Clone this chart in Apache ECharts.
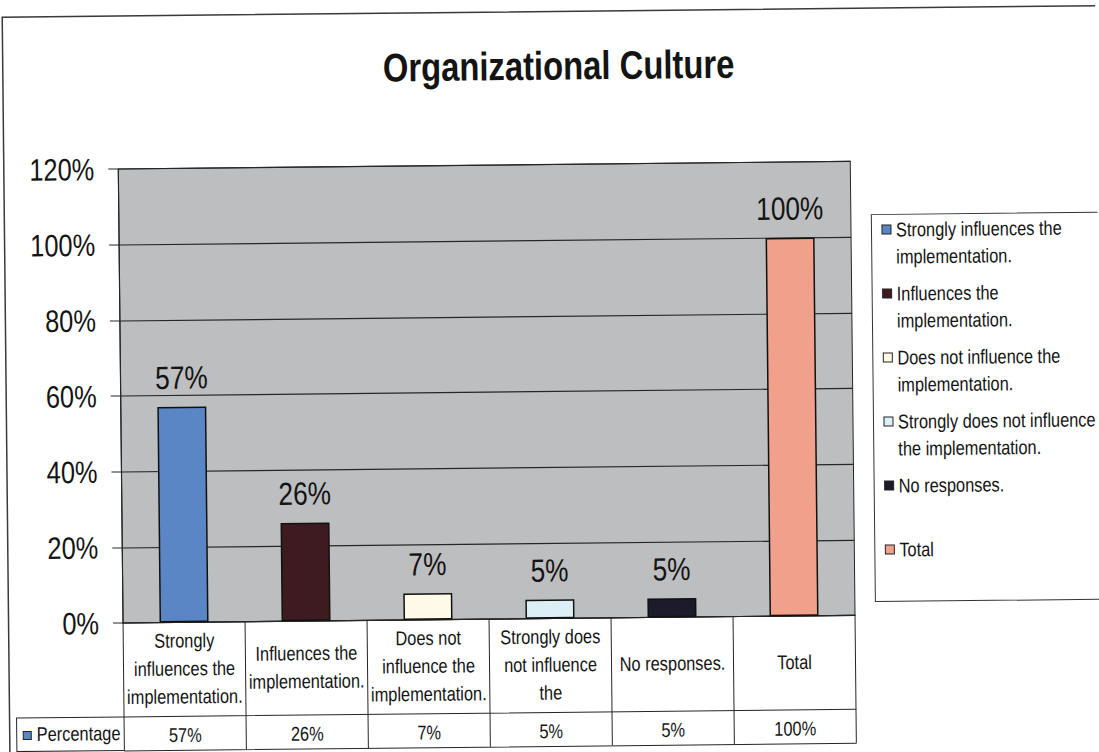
<!DOCTYPE html>
<html>
<head>
<meta charset="utf-8">
<title>Organizational Culture</title>
<script src="https://cdn.jsdelivr.net/npm/echarts@6/dist/echarts.min.js"></script>
<style>
  html, body { margin: 0; padding: 0; background: #ffffff; overflow: hidden; }
  #chart {
    width: 1099px;
    height: 752px;
    transform: rotate(-0.6deg);
    transform-origin: 50% 50%;
  }
</style>
</head>
<body>
<div id="chart"></div>
<script>
// Survey answers (legend / series names)
const categories = [
  'Strongly influences the implementation.',
  'Influences the implementation.',
  'Does not influence the implementation.',
  'Strongly does not influence the implementation.',
  'No responses.',
  'Total'
];

// Header cells of the data table under the plot
const tableLabels = [
  'Strongly\ninfluences the\nimplementation.',
  'Influences the\nimplementation.',
  'Does not\ninfluence the\nimplementation.',
  'Strongly does\nnot influence\nthe',
  'No responses.',
  'Total'
];

// Wrapped legend entries
const legendLabels = [
  'Strongly influences the\nimplementation.',
  'Influences the\nimplementation.',
  'Does not influence the\nimplementation.',
  'Strongly does not influence\nthe implementation.',
  'No responses.\n ',
  'Total\n '
];

// Percentage of respondents
const percentages = [57, 26, 7, 5, 5, 100];

// Value axis ticks (percent)
const yTicks = [0, 20, 40, 60, 80, 100, 120];

const barColors = ['#5a86c6', '#3e1b20', '#fffbe8', '#ddeff6', '#1d1b2b', '#f0a08b'];

const FONT = "'Liberation Sans', Arial, sans-serif";
const NARROW = 0.82;          // horizontal squeeze giving a narrow-sans look
const INK = '#141414';
const LINE = '#262626';

const valueLabels = percentages.map(v => v + '%');

const series = categories.map((name, i) => ({
  name: name,
  type: 'bar',
  stack: 'answers',
  barWidth: 49,
  xAxisIndex: 0,
  data: percentages.map((v, j) => (j === i ? v : '-')),
  itemStyle: {
    color: barColors[i],
    borderColor: '#111111',
    borderWidth: 1.5
  },
  label: {
    show: true,
    position: 'top',
    distance: 13,
    formatter: '{c}%',
    fontFamily: FONT,
    fontSize: 32,
    color: INK
  },
  emphasis: { disabled: true }
}));

const chart = echarts.init(document.getElementById('chart'), null, { renderer: 'svg' });

const gridLeft = 120.5, gridRight = 246.5, gridTop = 164.5, gridBottom = 133.5;
const baseY = 752 - gridBottom;

// Squeeze every text node horizontally about its own anchor point
function condenseText() {
  const svg = document.querySelector('#chart svg');
  if (!svg) return;
  svg.querySelectorAll('text').forEach(t => {
    const tr = t.getAttribute('transform') || '';
    if (tr.indexOf('scale(' + NARROW) >= 0) return;
    const x = parseFloat(t.getAttribute('x') || '0');
    const y = parseFloat(t.getAttribute('y') || '0');
    t.setAttribute('transform',
      (tr ? tr + ' ' : '') + 'translate(' + x + ' ' + y + ') scale(' + NARROW + ' 1) translate(' + (-x) + ' ' + (-y) + ')');
  });
}
chart.on('finished', condenseText);

chart.setOption({
  animation: false,
  backgroundColor: '#ffffff',
  title: {
    text: 'Organizational Culture',
    left: 381,
    top: 41,
    textStyle: {
      fontFamily: FONT,
      fontWeight: 'bold',
      fontSize: 40,
      color: INK
    }
  },
  legend: {
    orient: 'vertical',
    left: 873,
    top: 218,
    data: categories,
    formatter: name => legendLabels[categories.indexOf(name)],
    icon: 'path://M0,0M0,9h9v9h-9ZM0,54',
    symbolKeepAspect: false,
    itemWidth: 9,
    itemHeight: 54,
    itemGap: 9,
    padding: [1, 40, 11, 10],
    borderColor: '#333333',
    borderWidth: 1,
    backgroundColor: '#ffffff',
    selectedMode: false,
    itemStyle: { borderColor: '#222222', borderWidth: 1 },
    textStyle: {
      fontFamily: FONT,
      fontSize: 20,
      lineHeight: 27,
      color: INK
    }
  },
  grid: {
    left: gridLeft,
    right: gridRight,
    top: gridTop,
    bottom: gridBottom,
    show: true,
    backgroundColor: '#bdbebf',
    borderColor: LINE,
    borderWidth: 1
  },
  xAxis: [
    {
      // table header row: category names, cell dividers drawn as long ticks
      type: 'category',
      data: tableLabels,
      position: 'bottom',
      axisLine: { show: true, lineStyle: { color: LINE, width: 1.2 } },
      axisTick: { show: true, length: 127.5, lineStyle: { color: LINE, width: 1 } },
      axisLabel: {
        interval: 0,
        margin: 46,
        verticalAlign: 'middle',
        lineHeight: 28,
        fontFamily: FONT,
        fontSize: 20,
        color: INK
      }
    },
    {
      // table value row
      type: 'category',
      data: valueLabels,
      position: 'bottom',
      offset: 94,
      axisLine: { show: true, lineStyle: { color: LINE, width: 1 } },
      axisTick: { show: false },
      axisLabel: {
        interval: 0,
        margin: 18.5,
        verticalAlign: 'middle',
        fontFamily: FONT,
        fontSize: 20,
        color: INK
      }
    },
    {
      // bottom edge of the table
      type: 'category',
      data: categories,
      position: 'bottom',
      offset: 127.5,
      axisLine: { show: true, lineStyle: { color: LINE, width: 1 } },
      axisTick: { show: false },
      axisLabel: { show: false }
    }
  ],
  yAxis: {
    type: 'value',
    min: yTicks[0],
    max: yTicks[yTicks.length - 1],
    interval: yTicks[1] - yTicks[0],
    axisLine: { show: true, lineStyle: { color: LINE, width: 1.2 } },
    axisTick: { show: true, length: 10, lineStyle: { color: LINE, width: 1 } },
    axisLabel: {
      formatter: '{value}%',
      margin: 24,
      fontFamily: FONT,
      fontSize: 31,
      color: INK
    },
    splitLine: { show: true, lineStyle: { color: LINE, width: 1.2 } }
  },
  series: series,
  graphic: [
    {
      // outer chart frame
      type: 'rect',
      silent: true,
      z: -10,
      shape: { x: 6, y: 11.5, width: 1100, height: 743 },
      style: { fill: 'transparent', stroke: '#3a3a3a', lineWidth: 1.5 }
    },
    {
      // series-name cell of the value row
      type: 'polyline',
      silent: true,
      shape: { points: [[gridLeft, baseY + 94], [13, baseY + 94], [13, baseY + 127.5], [gridLeft, baseY + 127.5]] },
      style: { fill: 'transparent', stroke: LINE, lineWidth: 1 }
    },
    {
      type: 'rect',
      silent: true,
      shape: { x: 19.5, y: baseY + 107.5, width: 8, height: 8 },
      style: { fill: barColors[0], stroke: '#222222', lineWidth: 1 }
    },
    {
      type: 'text',
      silent: true,
      left: 33,
      top: baseY + 111.5 - 11.5,
      style: {
        text: 'Percentage',
        fontFamily: FONT,
        fontSize: 20,
        fill: INK
      }
    }
  ]
});

chart.getZr().refreshImmediately();
condenseText();
</script>
</body>
</html>
